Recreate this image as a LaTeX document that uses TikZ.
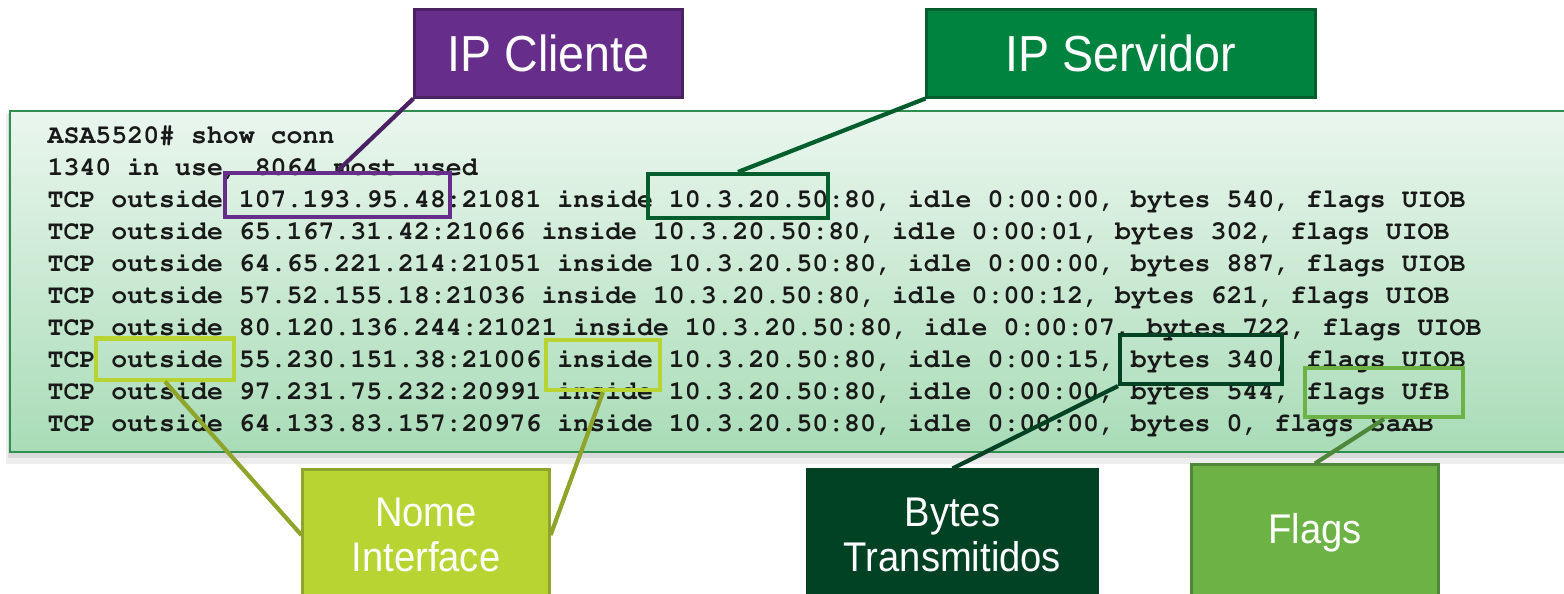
\documentclass[tikz,border=0pt]{standalone}
\usepackage[T1]{fontenc}
\usepackage{fontspec}
\setmainfont{Liberation Sans}
\newfontfamily\etiqfont[FakeStretch=0.92]{Liberation Sans}
\newcommand\termfont{\fontencoding{T1}\fontfamily{pcr}\fontseries{b}\selectfont}
\usepackage{xcolor}

\definecolor{termtop}{HTML}{EAF6EE}
\definecolor{termbot}{HTML}{A9DCB7}
\definecolor{termline}{HTML}{2F8F4E}
\definecolor{cliente}{HTML}{662D8A}
\definecolor{clienteb}{HTML}{4A2163}
\definecolor{servidor}{HTML}{00833F}
\definecolor{servidorb}{HTML}{005D2C}
\definecolor{nome}{HTML}{B7D433}
\definecolor{nomeb}{HTML}{8EA42A}
\definecolor{bytesc}{HTML}{014225}
\definecolor{flagsc}{HTML}{6CB245}
\definecolor{flagsb}{HTML}{4F873A}

\begin{document}
\begin{tikzpicture}[x=0.01cm,y=-0.01cm,
  etiq/.style={rectangle, text=white, inner sep=0pt, align=center, line width=0.85pt},
  grande/.style={font=\etiqfont\fontsize{14.4pt}{17pt}\selectfont},
  pequena/.style={font=\etiqfont\fontsize{11.8pt}{12.9pt}\selectfont},
  realce/.style={rectangle, draw, line width=1.15pt, inner sep=0pt},
  liga/.style={line width=1.2pt}]

\useasboundingbox (0,0) rectangle (1564,593);
\clip (0,0) rectangle (1564,593);

\fill[black!7] (6,114) rectangle (1580,464);
\fill[black!15] (8,113) rectangle (1580,458);
\shade[top color=termtop, bottom color=termbot, draw=termline, line width=0.6pt] (10,111) rectangle (1580,452);

\foreach \linha [count=\i] in {%
  {ASA5520\# show conn},
  {1340 in use, 8064 most used},
  {TCP outside 107.193.95.48:21081 inside 10.3.20.50:80, idle 0:00:00, bytes 540, flags UIOB},
  {TCP outside 65.167.31.42:21066 inside 10.3.20.50:80, idle 0:00:01, bytes 302, flags UIOB},
  {TCP outside 64.65.221.214:21051 inside 10.3.20.50:80, idle 0:00:00, bytes 887, flags UIOB},
  {TCP outside 57.52.155.18:21036 inside 10.3.20.50:80, idle 0:00:12, bytes 621, flags UIOB},
  {TCP outside 80.120.136.244:21021 inside 10.3.20.50:80, idle 0:00:07, bytes 722, flags UIOB},
  {TCP outside 55.230.151.38:21006 inside 10.3.20.50:80, idle 0:00:15, bytes 340, flags UIOB},
  {TCP outside 97.231.75.232:20991 inside 10.3.20.50:80, idle 0:00:00, bytes 544, flags UfB},
  {TCP outside 64.133.83.157:20976 inside 10.3.20.50:80, idle 0:00:00, bytes 0, flags SaAB}}
  \node[anchor=base west, inner sep=0pt, text=black!90,
    font=\termfont\fontsize{7.55pt}{9pt}\selectfont] (l\i) at (47,111+32*\i) {\linha};

\node[realce, draw=cliente, minimum width=2.25cm, minimum height=0.44cm] (hcli) at (337.5,195) {};
\node[realce, draw=servidorb, minimum width=1.8cm, minimum height=0.44cm] (hsrv) at (738,196) {};
\node[realce, draw=nome, minimum width=1.37cm, minimum height=0.41cm] (hout) at (165,359) {};
\node[realce, draw=nome, minimum width=1.13cm, minimum height=0.5cm] (hin) at (603,365) {};
\node[realce, draw=bytesc, minimum width=1.62cm, minimum height=0.49cm] (hbytes) at (1201,359.5) {};
\node[realce, draw=flagsc, minimum width=1.58cm, minimum height=0.49cm] (hflags) at (1384,392.5) {};

\node[etiq, grande, fill=cliente, draw=clienteb, minimum width=2.67cm, minimum height=0.87cm] (ipcli) at (548.5,53.5) {IP Cliente};
\node[etiq, grande, fill=servidor, draw=servidorb, minimum width=3.88cm, minimum height=0.87cm] (ipsrv) at (1121,53.5) {IP Servidor};
\node[etiq, pequena, fill=nome, draw=nomeb, minimum width=2.46cm, minimum height=1.3cm] (nomeif) at (426,535) {Nome\\Interface};
\node[etiq, pequena, fill=bytesc, draw=bytesc, minimum width=2.9cm, minimum height=1.3cm] (bytestx) at (952.5,535) {Bytes\\Transmitidos};
\node[etiq, pequena, fill=flagsc, draw=flagsb, minimum width=2.46cm, minimum height=1.35cm] (flags) at (1315,532.5) {Flags};

\draw[liga, clienteb] (ipcli.south west) -- (hcli.north);
\draw[liga, servidorb] (ipsrv.south west) -- (hsrv.north);
\draw[liga, nomeb] (hout.south) -- (nomeif.west);
\draw[liga, nomeb] (hin.south) -- (nomeif.east);
\draw[liga, bytesc] (hbytes.south west) -- (bytestx.north);
\draw[liga, flagsb] (hflags.south) -- (flags.north);

\end{tikzpicture}
\end{document}
